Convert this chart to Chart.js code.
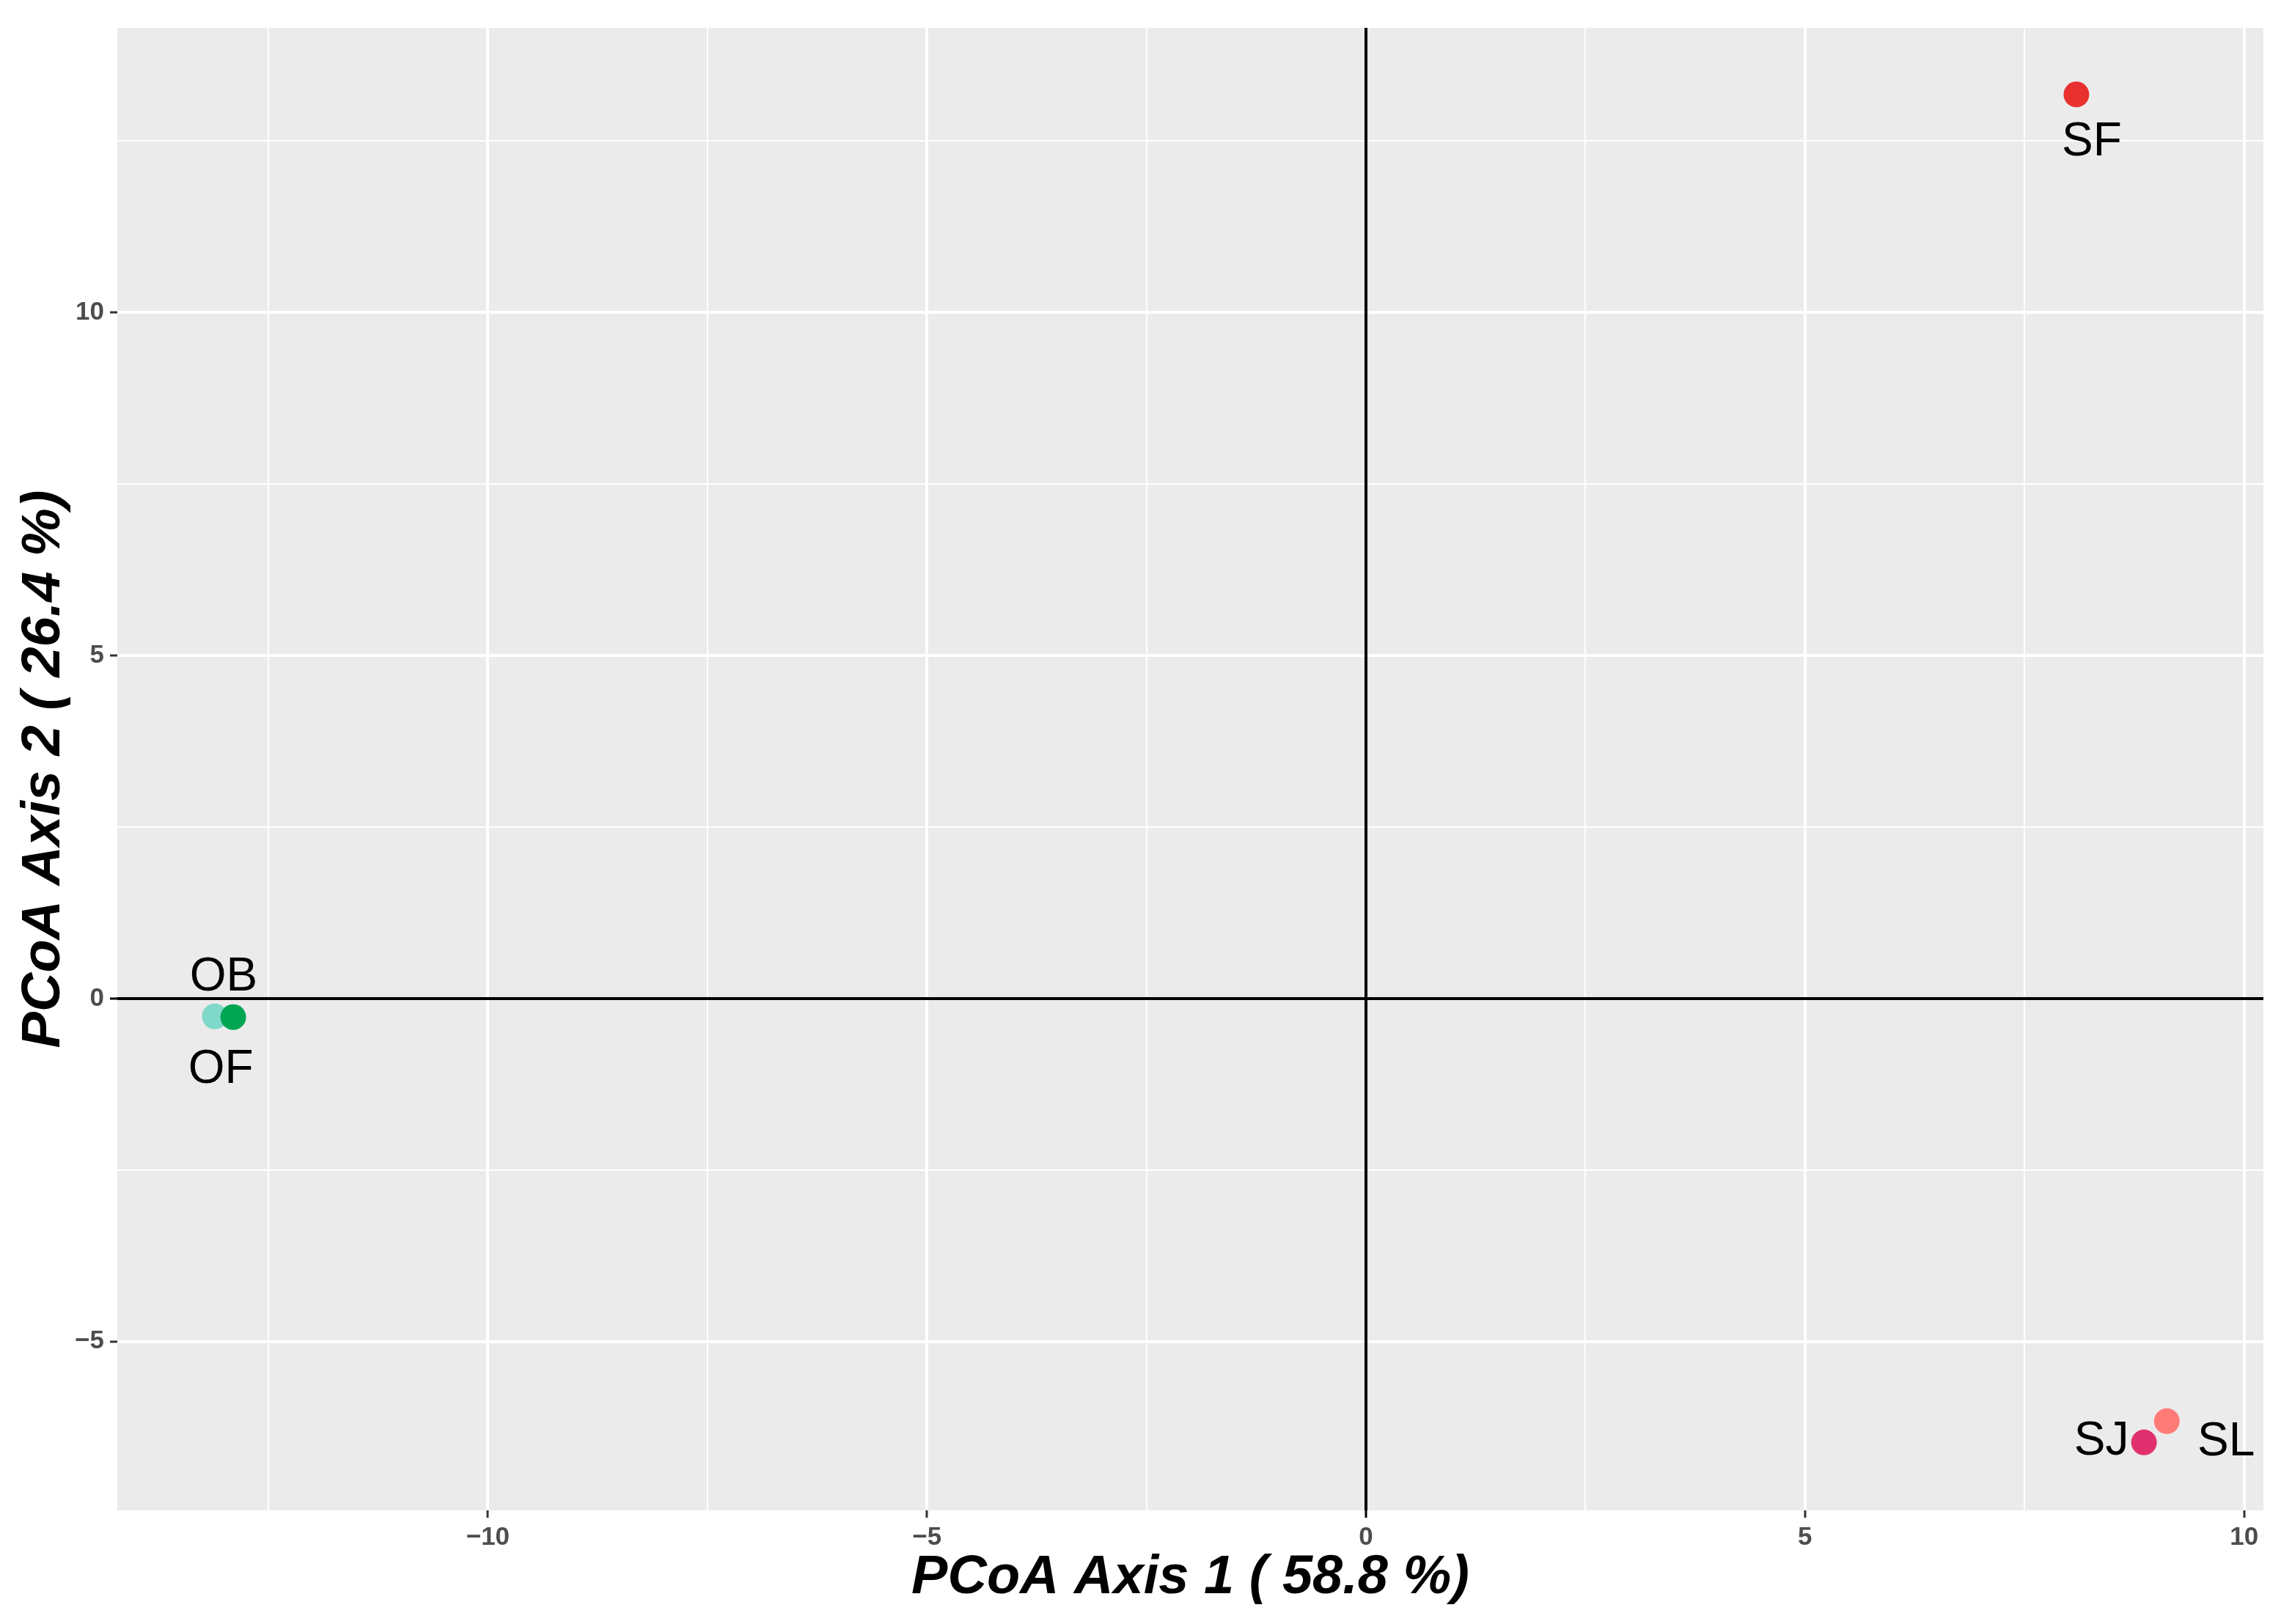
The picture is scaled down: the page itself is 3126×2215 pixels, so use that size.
<!DOCTYPE html>
<html lang="en">
<head>
<meta charset="UTF-8">
<title>PCoA</title>
<script src="https://cdn.jsdelivr.net/npm/chart.js"></script>
<style>
  body { margin: 0; background: #fff; }
  canvas { display: block; }
</style>
</head>
<body>
<canvas id="pcoa" width="3126" height="2215"></canvas>
<script>
// sample scores
const samples = ['OB', 'OF', 'SF', 'SJ', 'SL'];
const axis1 = [-13.11, -12.90, 8.09, 8.86, 9.12];
const axis2 = [-0.26, -0.27, 13.18, -6.47, -6.16];
const colors = ['#80D8CA', '#00A651', '#E8302F', '#E1306E', '#FF7B78'];
const xLimits = [-14.22, 10.22];
const yLimits = [-7.46, 14.15];
// grid positions (labelled ones are multiples of 5)
const xTicks = [-12.5, -10, -7.5, -5, -2.5, 0, 2.5, 5, 7.5, 10];
const yTicks = [-5, -2.5, 0, 2.5, 5, 7.5, 10, 12.5];
const xTitle = 'PCoA Axis 1 ( 58.8 %)';
const yTitle = 'PCoA Axis 2 ( 26.4 %)';

// pixel nudges for the text labels (repel-style placement)
const labelNudge = [[12, -53], [-17, 72], [21, 66], [-58, -1], [81, 29]];

const FONT = "'Liberation Sans', Arial, sans-serif";

function isMajor(v) { return Math.abs(v / 5 - Math.round(v / 5)) < 1e-6; }

function gridWidth(ctx) {
    return isMajor(ctx.tick.value) ? 4 : 2;
}
function tickColor(ctx) {
    const v = ctx.tick.value;
    if (Math.abs(v) < 1e-9) return '#000000';
    return isMajor(v) ? '#333333' : 'rgba(0,0,0,0)';
}
function tickLabel(v) {
    if (!isMajor(v)) return '';
    const r = Math.round(v);
    return r < 0 ? '\u2212' + Math.abs(r) : String(r);
}

const panel = {
    id: 'panel',
    beforeDraw(chart) {
        const {ctx, chartArea: a} = chart;
        ctx.save();
        ctx.fillStyle = '#EBEBEB';
        ctx.fillRect(a.left, a.top, a.right - a.left, a.bottom - a.top);
        ctx.restore();
    },
    beforeDatasetsDraw(chart) {
        const {ctx, chartArea: a, scales} = chart;
        const x0 = scales.x.getPixelForValue(0);
        const y0 = scales.y.getPixelForValue(0);
        ctx.save();
        ctx.strokeStyle = '#000000';
        ctx.lineWidth = 4;
        ctx.beginPath();
        ctx.moveTo(x0, a.top);
        ctx.lineTo(x0, a.bottom);
        ctx.moveTo(a.left, y0);
        ctx.lineTo(a.right, y0);
        ctx.stroke();
        ctx.restore();
    },
    afterDatasetsDraw(chart) {
        const {ctx} = chart;
        const meta = chart.getDatasetMeta(0);
        ctx.save();
        ctx.fillStyle = '#000000';
        ctx.font = '64px ' + FONT;
        ctx.textAlign = 'center';
        ctx.textBaseline = 'middle';
        meta.data.forEach((pt, i) => {
            ctx.fillText(samples[i], pt.x + labelNudge[i][0], pt.y + labelNudge[i][1]);
        });
        ctx.restore();
    }
};

function axisOptions(limits, ticks, title, isX) {
    return {
        type: 'linear',
        min: limits[0],
        max: limits[1],
        border: { display: false },
        afterBuildTicks(scale) {
            scale.ticks = ticks.map(v => ({ value: v }));
        },
        grid: {
            color: '#FFFFFF',
            lineWidth: gridWidth,
            tickColor: tickColor,
            tickLength: 10,
            tickWidth: 3
        },
        ticks: {
            autoSkip: false,
            maxRotation: 0,
            padding: isX ? 6 : 8,
            color: '#4D4D4D',
            font: { family: FONT, size: 35, weight: 'bold' },
            callback: tickLabel
        },
        title: {
            display: true,
            text: title,
            color: '#000000',
            font: { family: FONT, size: 74, weight: 'bold', style: 'italic' },
            padding: isX ? { top: 0, bottom: 18 } : { top: 16, bottom: 0 }
        },
        afterFit(scale) {
            if (isX) scale.height = 155; else scale.width = 160;
        }
    };
}

const ctx = document.getElementById('pcoa').getContext('2d');
const chart = new Chart(ctx, {
    type: 'scatter',
    data: {
        labels: samples,
        datasets: [{
            data: samples.map((s, i) => ({x: axis1[i], y: axis2[i]})),
            pointBackgroundColor: colors,
            pointBorderWidth: 0,
            pointRadius: 17.5,
            pointHoverRadius: 17.5
        }]
    },
    options: {
        responsive: false,
        animation: false,
        events: [],
        layout: { padding: { left: 0, top: 38, right: 39, bottom: 0 } },
        plugins: {
            legend: { display: false },
            tooltip: { enabled: false }
        },
        scales: {
            x: axisOptions(xLimits, xTicks, xTitle, true),
            y: axisOptions(yLimits, yTicks, yTitle, false)
        }
    },
    plugins: [panel]
});
</script>
</body>
</html>
